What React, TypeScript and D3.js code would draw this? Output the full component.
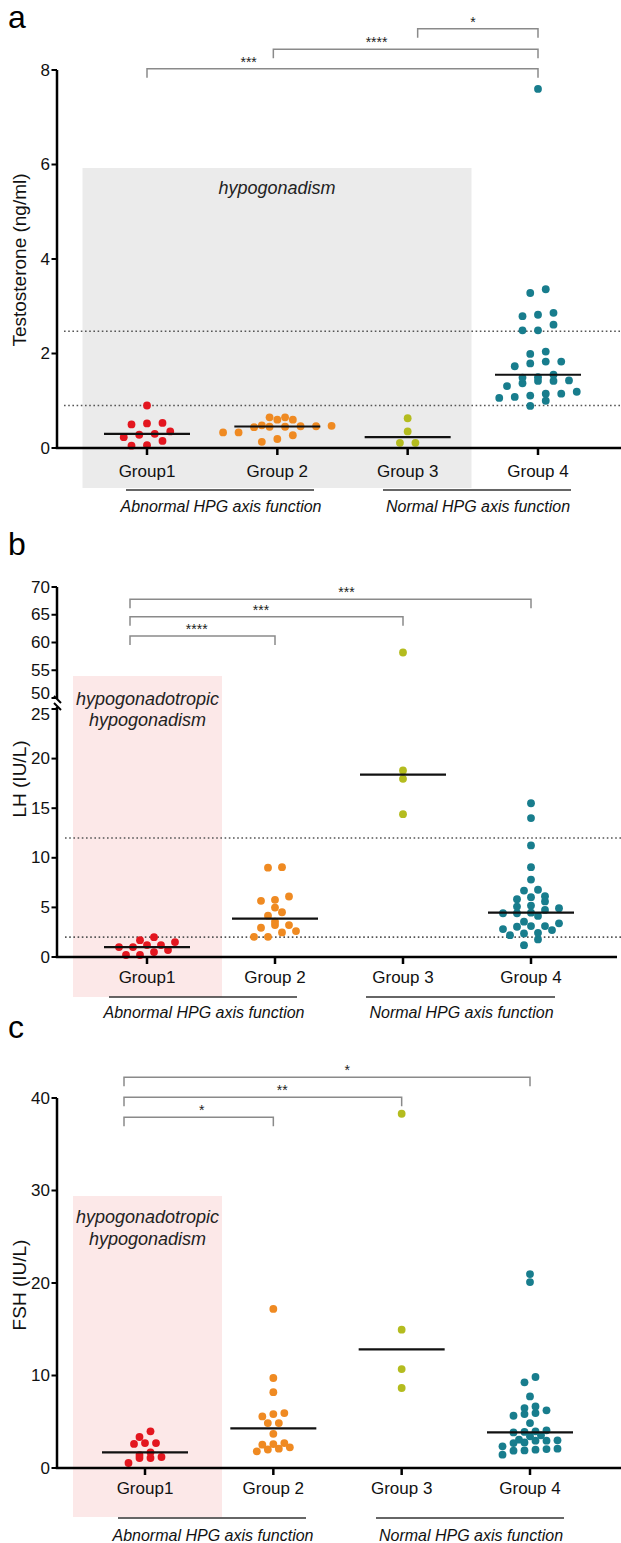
import React from "react";
import * as d3 from "d3";

// ---------- DATA ----------
const groups = ["Group1", "Group 2", "Group 3", "Group 4"];
const groupColors = ["#e3161f", "#ef8a22", "#b4bc1f", "#187d8d"];

// Panel a: Testosterone (ng/ml)
const testoG1 = [0.9, 0.5, 0.53, 0.52, 0.3, 0.28, 0.35, 0.23, 0.05, 0.06, 0.15];
const testoG2 = [0.65, 0.65, 0.6, 0.6, 0.48, 0.47, 0.46, 0.46, 0.45, 0.45, 0.44, 0.33, 0.33, 0.27, 0.19, 0.13];
const testoG3 = [0.63, 0.35, 0.11, 0.11];
const testoG4 = [7.6, 3.36, 3.28, 2.86, 2.82, 2.79, 2.61, 2.49, 2.49, 2.04, 1.99, 1.83, 1.83, 1.79, 1.73, 1.55,
  1.5, 1.49, 1.43, 1.42, 1.42, 1.37, 1.31, 1.19, 1.15, 1.15, 1.11, 1.08, 1.06, 1.0, 0.89];
const testoRefLines = [2.47, 0.9];
const testoTicks = [0, 2, 4, 6, 8];

// Panel b: LH (IU/L)
const lhG1 = [1.0, 2.0, 1.2, 0.2, 1.7, 0.7, 1.0, 0.2, 1.5, 0.5, 1.2];
const lhG2 = [9.0, 9.05, 6.1, 5.66, 5.76, 4.98, 4.17, 4.51, 3.56, 3.22, 2.95, 2.48, 2.61, 2.03, 3.22, 2.03];
const lhG3 = [58.2, 18.8, 17.96, 14.4];
const lhG4 = [15.5, 14.0, 11.25, 9.05, 7.8, 6.7, 6.78, 5.6, 5.83, 6.03, 6.13, 4.75, 4.47, 4.92, 5.08, 5.18,
  4.41, 4.41, 4.14, 2.81, 3.12, 3.12, 3.56, 3.39, 3.05, 2.44, 2.2, 2.71, 1.77, 2.38, 1.19];
const lhRefLines = [12, 2];
const lhTicksLow = [0, 5, 10, 15, 20, 25];
const lhTicksHigh = [50, 55, 60, 65, 70];

// Panel c: FSH (IU/L)
const fshG1 = [3.96, 2.7, 2.6, 2.7, 3.35, 1.08, 1.4, 1.08, 1.19, 1.69, 0.54];
const fshG2 = [17.2, 9.73, 8.2, 5.58, 4.86, 5.83, 5.94, 4.86, 3.7, 2.09, 2.7, 2.23, 2.59, 1.8, 2.52, 2.0];
const fshG3 = [38.3, 14.95, 10.7, 8.65];
const fshG4 = [20.97, 20.1, 9.26, 9.84, 7.74, 6.66, 6.23, 5.94, 5.83, 5.65, 6.48, 4.86, 3.53, 3.85, 4.07,
  3.42, 3.9, 3.96, 2.7, 2.95, 2.95, 3.06, 2.77, 2.99, 1.87, 2.34, 2.09, 1.98, 2.05, 1.44, 1.9];
const fshTicks = [0, 10, 20, 30, 40];

const bracketsA = [
  { from: 0, to: 3, label: "***" },
  { from: 1, to: 3, label: "****" },
  { from: 2, to: 3, label: "*" },
];
const bracketsB = [
  { from: 0, to: 1, label: "****" },
  { from: 0, to: 2, label: "***" },
  { from: 0, to: 3, label: "***" },
];
const bracketsC = [
  { from: 0, to: 1, label: "*" },
  { from: 0, to: 2, label: "**" },
  { from: 0, to: 3, label: "*" },
];

// ---------- HELPERS ----------
const FONT = "'Liberation Sans', Arial, Helvetica, sans-serif";

type Pt = { v: number; y: number; x: number };

function swarm(values: number[], y: (v: number) => number, cx: number, spacing: number, rowH: number): Pt[] {
  const pts = values.map((v) => ({ v, y: y(v) })).sort((a, b) => b.y - a.y);
  const out: Pt[] = [];
  let row: { v: number; y: number }[] = [];
  let rowStart: number | null = null;
  const flush = () => {
    const n = row.length;
    row.forEach((p, i) => out.push({ ...p, x: cx + (i - (n - 1) / 2) * spacing }));
    row = [];
  };
  for (const p of pts) {
    if (rowStart === null || rowStart - p.y > rowH) {
      flush();
      rowStart = p.y;
    }
    row.push(p);
  }
  flush();
  return out;
}

type PanelProps = {
  data: number[][];
  yScale: (v: number) => number;
  xRange: [number, number];
  axisX: number;
  axisY: number;
  axisRight: number;
  spacing: number;
  rowH: number;
  refLines: number[];
  refStart: number;
  bg: { x0: number; x1: number; y0: number; y1: number; fill: string };
  bgText: string[];
  bgTextY: number[];
  brackets: { from: number; to: number; label: string }[];
  bracketY: number[];
  fromShift: number[];
  labelFrac: number[];
  groupLabelY: number;
  underlines: [number, number][];
  underlineY: number;
  funcTextY: number;
  letter: string;
  letterY: number;
  yTitle: string;
  yTitleY: number;
  yAxis: React.ReactNode;
};

function Panel(p: PanelProps) {
  const x = d3.scalePoint<number>().domain([0, 1, 2, 3]).range(p.xRange);
  const r = 3.9;
  return (
    <g>
      <rect x={p.bg.x0} y={p.bg.y0} width={p.bg.x1 - p.bg.x0} height={p.bg.y1 - p.bg.y0} fill={p.bg.fill} />
      {p.bgText.map((t, i) => (
        <text key={i} x={(p.bg.x0 + p.bg.x1) / 2} y={p.bgTextY[i]} textAnchor="middle" dominantBaseline="central"
          fontStyle="italic" fontSize={18} fill="#222" fontFamily={FONT}>{t}</text>
      ))}
      {p.refLines.map((v, i) => (
        <line key={i} x1={p.refStart} x2={621} y1={p.yScale(v)} y2={p.yScale(v)} stroke="#555"
          strokeWidth={1.6} strokeDasharray="1.6,2.6" />
      ))}
      {p.data.map((vals, gi) => {
        const cx = x(gi)!;
        const pts = swarm(vals, p.yScale, cx, p.spacing, p.rowH);
        const med = d3.median(vals)!;
        return (
          <g key={gi}>
            {pts.map((pt, k) => (
              <circle key={k} cx={pt.x} cy={pt.y} r={r} fill={groupColors[gi]} />
            ))}
            <line x1={cx - 43} x2={cx + 43} y1={p.yScale(med)} y2={p.yScale(med)} stroke="#111" strokeWidth={2.2} />
          </g>
        );
      })}
      {/* x axis */}
      <line x1={p.axisX - 1.2} x2={p.axisRight} y1={p.axisY} y2={p.axisY} stroke="#000" strokeWidth={2.5} />
      {groups.map((g, i) => (
        <g key={g}>
          <line x1={x(i)!} x2={x(i)!} y1={p.axisY} y2={p.axisY + 7} stroke="#000" strokeWidth={2.5} />
          <text x={x(i)!} y={p.groupLabelY} textAnchor="middle" dominantBaseline="central" fontSize={17}
            fill="#111" fontFamily={FONT}>{g}</text>
        </g>
      ))}
      {p.yAxis}
      {/* function annotations */}
      {p.underlines.map((u, i) => (
        <g key={i}>
          <line x1={u[0]} x2={u[1]} y1={p.underlineY} y2={p.underlineY} stroke="#333" strokeWidth={1.6} />
          <text x={(u[0] + u[1]) / 2 + 1} y={p.funcTextY} textAnchor="middle" dominantBaseline="central"
            fontStyle="italic" fontSize={16} fill="#111" fontFamily={FONT}>
            {i === 0 ? "Abnormal HPG axis function" : "Normal HPG axis function"}
          </text>
        </g>
      ))}
      {/* brackets */}
      {p.brackets.map((b, i) => {
        const x1 = x(b.from)! + p.fromShift[i];
        const x2 = x(b.to)!;
        const yb = p.bracketY[i];
        return (
          <g key={i}>
            <path d={`M${x1},${yb + 9}V${yb}H${x2}V${yb + 9}`} fill="none" stroke="#8a8a8a" strokeWidth={1.5} />
            <text x={x1 + (x2 - x1) * p.labelFrac[i]} y={yb - 2} textAnchor="middle" fontSize={14}
              fill="#222" fontFamily={FONT}>{b.label}</text>
          </g>
        );
      })}
      <text x={8} y={p.letterY} fontSize={32} fill="#000" fontFamily={FONT}>{p.letter}</text>
      <text transform={`translate(19,${p.yTitleY}) rotate(-90)`} textAnchor="middle" dominantBaseline="central"
        fontSize={19} fill="#111" fontFamily={FONT}>{p.yTitle}</text>
    </g>
  );
}

function YAxis({ scale, ticks, x, y0, y1, labelDy }: {
  scale: (v: number) => number; ticks: number[]; x: number; y0: number; y1: number;
  labelDy?: Record<number, number>;
}) {
  return (
    <g>
      <line x1={x} x2={x} y1={y0} y2={y1} stroke="#000" strokeWidth={2.5} />
      {ticks.map((t) => (
        <g key={t}>
          <line x1={x - 5.5} x2={x} y1={scale(t)} y2={scale(t)} stroke="#000" strokeWidth={2} />
          <text x={x - 7} y={scale(t) + (labelDy?.[t] ?? 0)} textAnchor="end" dominantBaseline="central"
            fontSize={17} fill="#111" fontFamily={FONT}>{t}</text>
        </g>
      ))}
    </g>
  );
}

export default function App() {
  // Panel a
  const yA = d3.scaleLinear().domain([0, 8]).range([448, 70]);
  // Panel b (broken axis)
  const yBLow = d3.scaleLinear().domain([0, 25]).range([957, 709]);
  const yBHigh = d3.scaleLinear().domain([50, 70]).range([698, 587]);
  const yB = (v: number) => (v > 30 ? yBHigh(v) : yBLow(v));
  // Panel c
  const yC = d3.scaleLinear().domain([0, 40]).range([1468, 1098]);

  const axisX = 57;

  return (
    <svg width={621} height={1543} style={{ position: "absolute", left: 0, top: 0, display: "block", background: "#fff" }}>
      <rect x={0} y={0} width={621} height={1543} fill="#fff" />
      <Panel
        data={[testoG1, testoG2, testoG3, testoG4]}
        yScale={yA}
        xRange={[147, 538]}
        axisX={axisX}
        axisY={448}
        axisRight={621}
        spacing={15.5}
        rowH={7}
        refLines={testoRefLines}
        refStart={64}
        bg={{ x0: 82.5, x1: 471.5, y0: 168, y1: 488, fill: "#ebebeb" }}
        bgText={["hypogonadism"]}
        bgTextY={[188]}
        brackets={bracketsA}
        bracketY={[68.7, 49.3, 28.7]}
        fromShift={[0, -4, 10]}
        labelFrac={[0.26, 0.39, 0.46]}
        groupLabelY={471}
        underlines={[[126, 314], [383, 571]]}
        underlineY={490}
        funcTextY={506}
        letter="a"
        letterY={28}
        yTitle="Testosterone (ng/ml)"
        yTitleY={260}
        yAxis={<YAxis scale={yA} ticks={testoTicks} x={axisX} y0={70} y1={448} />}
      />
      <Panel
        data={[lhG1, lhG2, lhG3, lhG4]}
        yScale={yB}
        xRange={[147, 531]}
        axisX={axisX}
        axisY={957}
        axisRight={617}
        spacing={14}
        rowH={6}
        refLines={lhRefLines}
        refStart={65}
        bg={{ x0: 73, x1: 222, y0: 676, y1: 997, fill: "#fce8e8" }}
        bgText={["hypogonadotropic", "hypogonadism"]}
        bgTextY={[699, 720]}
        brackets={bracketsB}
        bracketY={[636, 616.7, 599.3]}
        fromShift={[-17, -17, -17]}
        labelFrac={[0.46, 0.48, 0.54]}
        groupLabelY={977}
        underlines={[[109, 297], [366, 555]]}
        underlineY={997}
        funcTextY={1012}
        letter="b"
        letterY={555}
        yTitle="LH (IU/L)"
        yTitleY={779}
        yAxis={
          <g>
            <YAxis scale={yBHigh} ticks={lhTicksHigh} x={axisX} y0={587} y1={699} labelDy={{ 50: -5 }} />
            <YAxis scale={yBLow} ticks={lhTicksLow} x={axisX} y0={707} y1={957} labelDy={{ 25: 5 }} />
            <line x1={axisX - 3} x2={axisX + 4} y1={696} y2={703} stroke="#000" strokeWidth={2} />
            <line x1={axisX - 3} x2={axisX + 4} y1={703} y2={710} stroke="#000" strokeWidth={2} />
          </g>
        }
      />
      <Panel
        data={[fshG1, fshG2, fshG3, fshG4]}
        yScale={yC}
        xRange={[145, 530]}
        axisX={axisX}
        axisY={1468}
        axisRight={621}
        spacing={11}
        rowH={6.5}
        refLines={[]}
        refStart={65}
        bg={{ x0: 73, x1: 222, y0: 1196, y1: 1517, fill: "#fce8e8" }}
        bgText={["hypogonadotropic", "hypogonadism"]}
        bgTextY={[1217, 1239]}
        brackets={bracketsC}
        bracketY={[1117.3, 1097.3, 1077.3]}
        fromShift={[-21, -21, -21]}
        labelFrac={[0.52, 0.57, 0.55]}
        groupLabelY={1488}
        underlines={[[118, 306], [376, 564]]}
        underlineY={1518}
        funcTextY={1535}
        letter="c"
        letterY={1038}
        yTitle="FSH (IU/L)"
        yTitleY={1285}
        yAxis={<YAxis scale={yC} ticks={fshTicks} x={axisX} y0={1098} y1={1468} />}
      />
    </svg>
  );
}
